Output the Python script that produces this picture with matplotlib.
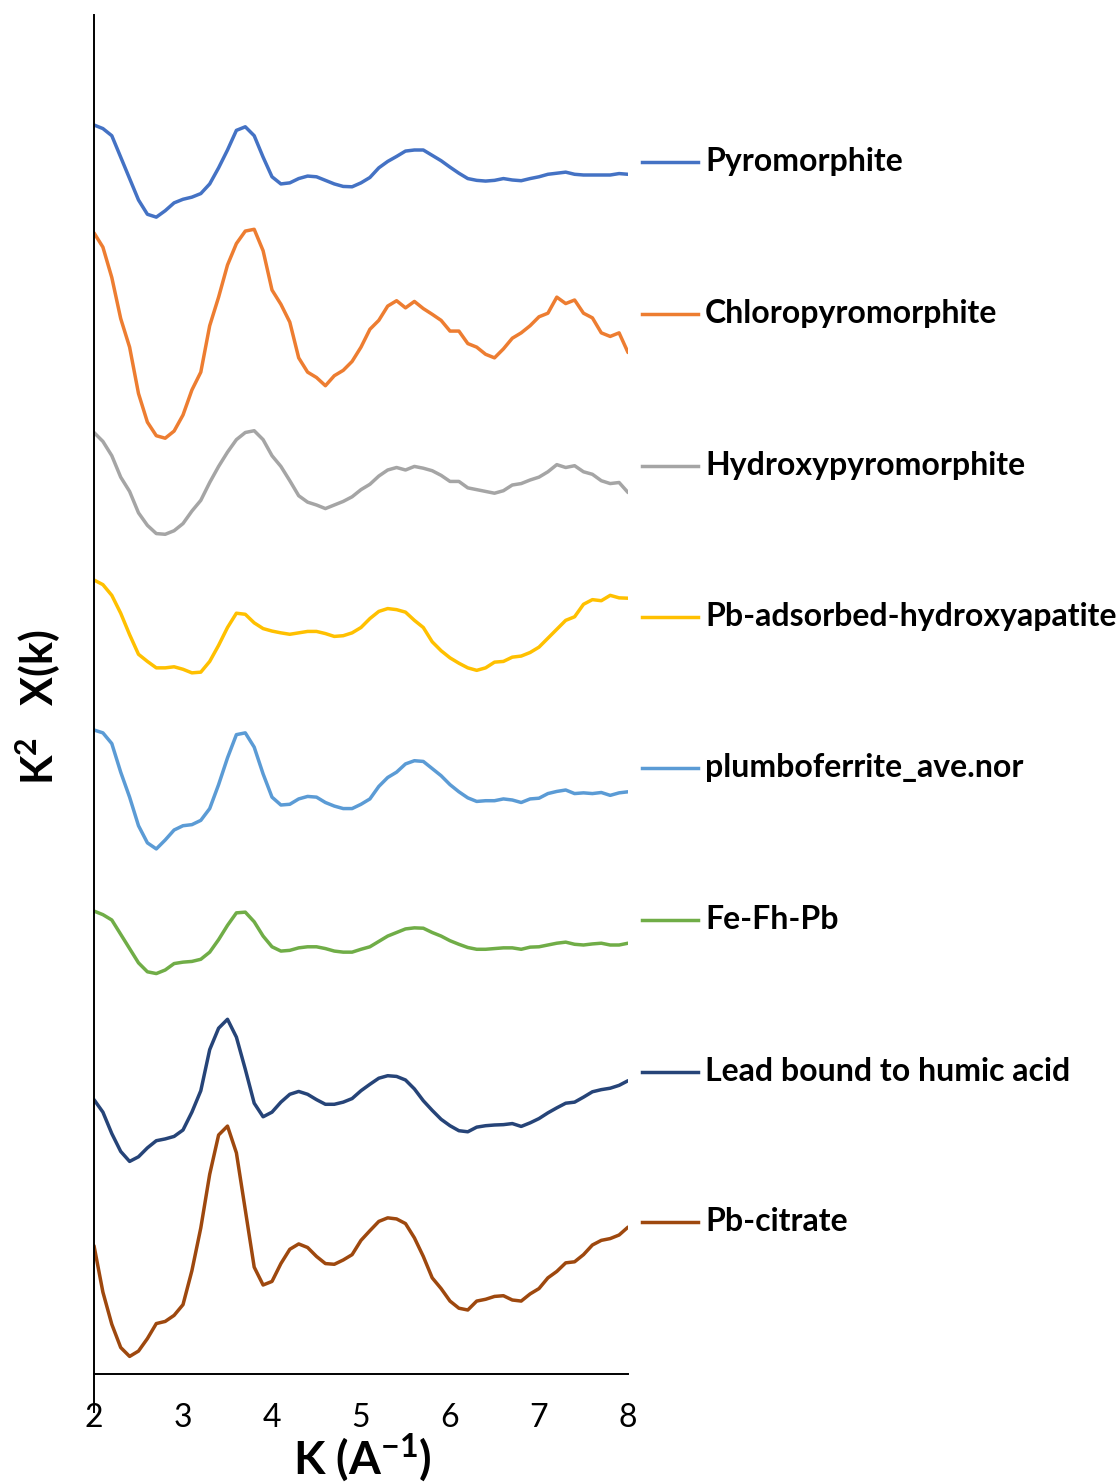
import numpy as np
import matplotlib
matplotlib.use("Agg")
import matplotlib.pyplot as plt
from matplotlib.lines import Line2D

plt.rcParams['font.family'] = ['Lato', 'DejaVu Sans']
plt.rcParams['mathtext.fontset'] = 'custom'
plt.rcParams['mathtext.rm'] = 'Lato'
plt.rcParams['mathtext.bf'] = 'Lato:bold'

# k grid (A^-1)
k = np.round(np.arange(2.0, 8.0001, 0.1), 2)

names = ["Pyromorphite", "Chloropyromorphite", "Hydroxypyromorphite",
         "Pb-adsorbed-hydroxyapatite", "plumboferrite_ave.nor", "Fe-Fh-Pb",
         "Lead bound to humic acid", "Pb-citrate"]
colors = ["#4472C4", "#ED7D31", "#A5A5A5", "#FFC000",
          "#5B9BD5", "#70AD47", "#264478", "#9E480E"]
# vertical stacking offsets (arbitrary units)
offsets = [335.4, 303.2, 245.8, 205.2, 163.2, 112.8, 82.0, 52.6]

pyromorphite = [23.0, 22.0, 20.0, 14.0, 8.0, 2.0, -2.0, -2.8, -1.0, 1.2,
                2.2, 2.8, 3.8, 6.5, 11.0, 16.0, 21.5, 22.5, 20.0, 14.0,
                8.5, 6.5, 6.8, 8.0, 8.7, 8.5, 7.5, 6.5, 5.8, 5.7,
                6.8, 8.3, 11.0, 12.8, 14.2, 15.7, 16.0, 16.0, 14.5, 13.0,
                11.2, 9.5, 8.0, 7.5, 7.3, 7.5, 8.0, 7.6, 7.4, 8.0,
                8.5, 9.2, 9.5, 9.8, 9.2, 9.0, 9.0, 9.0, 9.0, 9.4,
                9.2]
chloropyromorphite = [25.0, 21.0, 12.5, 1.0, -7.0, -20.0, -28.0, -31.8, -32.5, -30.5,
                      -26.0, -19.0, -14.0, -1.0, 7.0, 16.0, 22.0, 25.5, 26.0, 20.0,
                      9.0, 5.0, 0.0, -10.0, -14.0, -15.5, -17.8, -15.0, -13.5, -11.0,
                      -7.0, -2.0, 0.5, 4.5, 6.0, 4.0, 5.8, 3.8, 2.2, 0.5,
                      -2.5, -2.5, -6.0, -7.0, -9.0, -10.0, -7.5, -4.5, -3.0, -1.0,
                      1.5, 2.5, 7.0, 5.2, 6.2, 2.5, 1.2, -3.0, -4.0, -3.0,
                      -8.5]
hydroxypyromorphite = [26.5, 24.0, 20.0, 14.0, 10.0, 4.0, 0.5, -1.8, -2.0, -1.0,
                       1.0, 4.5, 7.5, 12.5, 17.0, 21.0, 24.5, 26.5, 27.0, 24.5,
                       20.0, 17.0, 13.0, 8.8, 7.0, 6.2, 5.2, 6.2, 7.2, 8.5,
                       10.5, 12.0, 14.3, 16.0, 16.7, 16.0, 17.0, 16.5, 15.8, 14.5,
                       12.8, 12.8, 11.0, 10.5, 10.0, 9.5, 10.2, 11.8, 12.2, 13.2,
                       14.0, 15.5, 17.5, 16.7, 17.2, 15.5, 14.8, 13.0, 12.2, 12.5,
                       9.7]
pb_adsorbed_hap = [25.8, 24.5, 21.5, 16.5, 10.5, 5.0, 3.0, 1.2, 1.2, 1.5,
                   0.8, -0.2, 0.0, 3.0, 7.5, 12.5, 16.5, 16.2, 13.8, 12.2,
                   11.5, 11.0, 10.6, 11.0, 11.4, 11.4, 10.8, 10.0, 10.2, 11.0,
                   12.5, 15.0, 17.0, 17.8, 17.5, 16.8, 14.5, 12.5, 8.5, 6.0,
                   4.0, 2.5, 1.2, 0.5, 1.2, 2.8, 3.0, 4.2, 4.5, 5.5,
                   7.0, 9.5, 12.0, 14.5, 15.5, 19.0, 20.3, 20.0, 21.5, 20.8,
                   20.7]
plumboferrite = [25.8, 25.0, 22.0, 14.0, 7.0, -1.0, -5.8, -7.5, -5.0, -2.2,
                 -1.0, -0.7, 0.5, 3.8, 10.5, 18.0, 24.5, 25.0, 21.0, 13.5,
                 7.0, 4.8, 5.0, 6.5, 7.2, 7.0, 5.5, 4.5, 3.8, 3.8,
                 5.0, 6.5, 10.0, 12.5, 14.0, 16.3, 17.2, 17.0, 15.0, 13.0,
                 10.5, 8.5, 6.8, 5.8, 6.0, 6.0, 6.5, 6.2, 5.5, 6.5,
                 6.7, 8.0, 8.6, 9.0, 8.0, 8.2, 8.0, 8.3, 7.5, 8.2,
                 8.5]
fe_fh_pb = [25.5, 24.5, 23.0, 19.0, 15.0, 11.0, 8.5, 8.0, 9.0, 10.8,
            11.2, 11.4, 12.0, 14.0, 17.5, 21.5, 25.0, 25.2, 22.5, 18.5,
            15.5, 14.3, 14.5, 15.2, 15.5, 15.5, 15.0, 14.3, 14.0, 14.0,
            14.8, 15.5, 17.0, 18.5, 19.5, 20.5, 20.8, 20.7, 19.5, 18.5,
            17.2, 16.2, 15.3, 14.8, 14.8, 15.0, 15.2, 15.2, 14.8, 15.4,
            15.5, 16.0, 16.5, 16.8, 16.2, 16.0, 16.3, 16.5, 16.0, 16.0,
            16.5]
humic = [3.5, 0.0, -6.0, -11.0, -13.8, -12.5, -10.0, -8.0, -7.5, -6.8,
         -5.0, 0.0, 6.0, 17.5, 23.5, 26.0, 21.0, 12.0, 2.5, -1.3,
         0.0, 2.8, 5.0, 5.8, 5.0, 3.5, 2.2, 2.2, 2.8, 3.8,
         6.0, 7.8, 9.5, 10.2, 10.0, 9.0, 6.5, 3.2, 0.5, -2.0,
         -3.8, -5.2, -5.5, -4.2, -3.8, -3.6, -3.5, -3.2, -4.0, -3.0,
         -1.8, -0.2, 1.2, 2.5, 2.8, 4.2, 5.7, 6.3, 6.7, 7.5,
         8.8]
pb_citrate = [-8.0, -21.0, -30.0, -36.5, -39.0, -37.5, -34.0, -29.8, -29.2, -27.5,
              -24.5, -15.0, -3.0, 12.0, 23.0, 25.5, 18.0, 2.0, -14.0, -19.0,
              -18.0, -13.0, -9.0, -7.5, -8.5, -11.0, -13.0, -13.2, -12.0, -10.5,
              -6.5, -3.8, -1.2, -0.2, -0.5, -1.8, -5.8, -11.0, -17.0, -20.0,
              -23.5, -25.5, -26.0, -23.5, -23.0, -22.2, -22.0, -23.2, -23.5, -21.5,
              -20.0, -17.0, -15.2, -12.8, -12.5, -10.5, -7.8, -6.5, -6.0, -5.0,
              -2.8]
series = [pyromorphite, chloropyromorphite, hydroxypyromorphite, pb_adsorbed_hap,
          plumboferrite, fe_fh_pb, humic, pb_citrate]
xticks = [2, 3, 4, 5, 6, 7, 8]

W, H = 1118, 1483
fig = plt.figure(figsize=(W / 100, H / 100), dpi=100)
ax = fig.add_axes([94 / W, 1 - 1412 / H, (628 - 94) / W, (1412 - 15) / H])

for vals, off, c in zip(series, offsets, colors):
    ax.plot(k, np.array(vals) + off, color=c, lw=2.5, solid_capstyle='round',
            solid_joinstyle='round')

ax.set_xlim(2, 8)
ax.set_ylim(-1.96, 389.2)
ax.spines['top'].set_visible(False)
ax.spines['right'].set_visible(False)
ax.spines['bottom'].set_position(('data', 8.7))
for s in ('left', 'bottom'):
    ax.spines[s].set_linewidth(1.4)
    ax.spines[s].set_color('black')
ax.set_yticks([])
ax.set_xticks(xticks)
ax.set_xticklabels([str(t) for t in xticks])
ax.tick_params(axis='x', length=0, pad=21, labelsize=23)

fig.text(362 / W, 1 - 1458 / H, r'K (A$^{\mathbf{-1}}$)', fontsize=33,
         fontweight='bold', ha='center', va='center')
fig.text(38 / W, 1 - 707 / H, r'K$^{\mathbf{2}}$   X(k)', fontsize=31,
         fontweight='bold', ha='center', va='center', rotation=90)

# legend (right side)
leg_y = [162, 314, 466, 617, 768, 920, 1072, 1222]
for name, c, ly in zip(names, colors, leg_y):
    fig.add_artist(Line2D([642 / W, 698 / W], [1 - ly / H, 1 - ly / H],
                          transform=fig.transFigure, color=c, lw=2.5))
    fig.text(705 / W, 1 - (ly + 9) / H, name, fontsize=23, fontweight='bold',
             ha='left', va='baseline')

fig.savefig('out.png', dpi=100)
